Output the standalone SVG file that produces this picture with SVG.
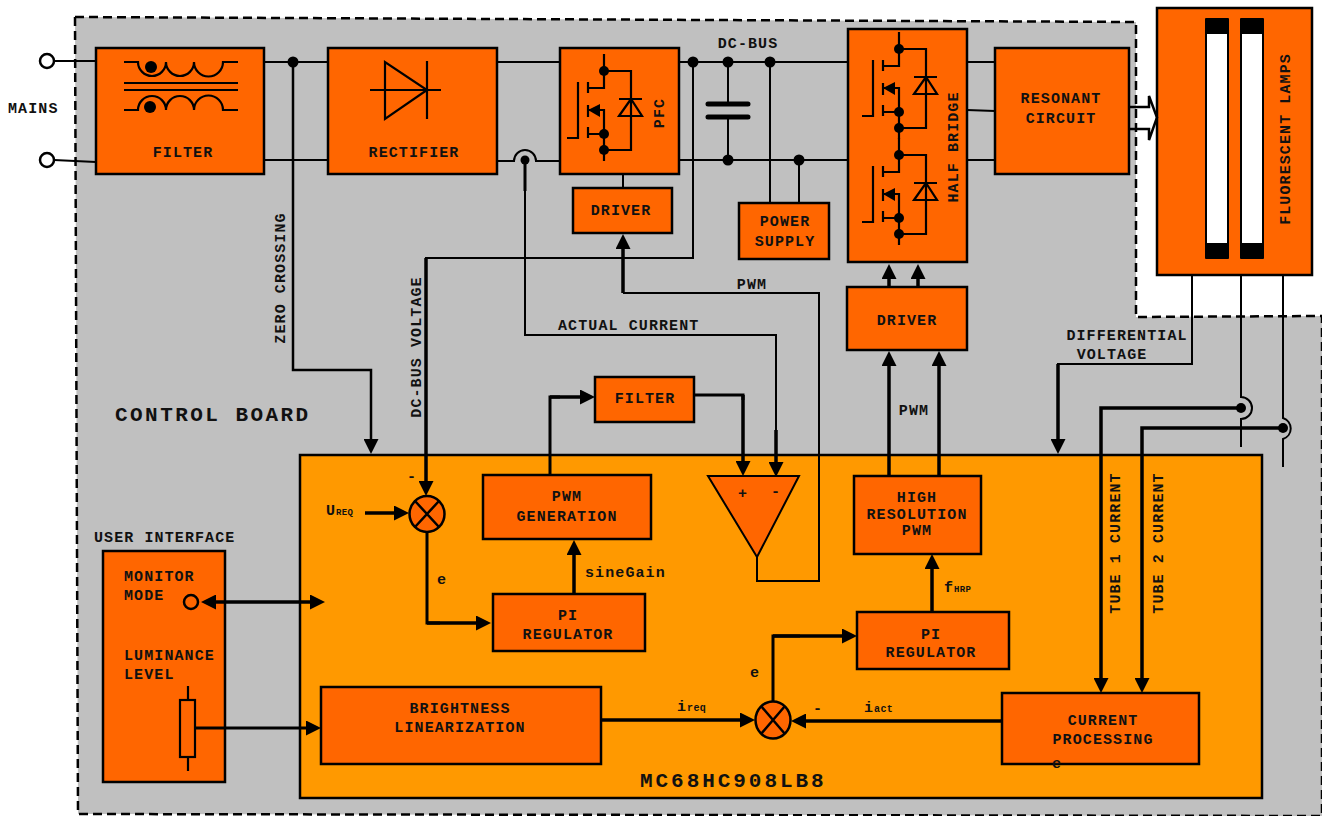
<svg xmlns="http://www.w3.org/2000/svg" xmlns:xlink="http://www.w3.org/1999/xlink" width="1322" height="816" viewBox="0 0 1322 816">
<style>
text{font-family:"Liberation Mono","Courier New",monospace;font-weight:700;font-size:15px;letter-spacing:1.1px;fill:#111}
.m{text-anchor:middle}
.big{font-size:21px;letter-spacing:2.6px}
.cb{letter-spacing:2.45px}
.mc{letter-spacing:2.95px}
.sub{font-size:9px;letter-spacing:.3px}
.b{fill:#ff6600;stroke:#000;stroke-width:2.5}
.w{fill:none;stroke:#000;stroke-width:2}
.t{fill:none;stroke:#000;stroke-width:3}
.ta{fill:none;stroke:#000;stroke-width:3.5;marker-end:url(#a)}
.wa{fill:none;stroke:#000;stroke-width:2;marker-end:url(#a)}
.s{fill:none;stroke:#000;stroke-width:2.2}
.d{fill:#000}
</style>
<defs>
<marker id="a" viewBox="0 0 15 15" refX="10" refY="7.5" markerUnits="userSpaceOnUse" markerWidth="15" markerHeight="15" orient="auto-start-reverse"><path d="M0 0L15 7.5L0 15Z" fill="#000"/></marker>
<g id="fet">
<path class="s" d="M578 82V138H567M588 82V93M588 105V117M588 127V138M604 54V88H588M588 110H604V161M604 134H588M604 71H631V150H604M619 99H642M631 99L619 116H642Z"/>
<path class="d" d="M588 110L600 104V117Z"/>
<circle class="d" cx="604" cy="71" r="5"/><circle class="d" cx="604" cy="134" r="5"/><circle class="d" cx="604" cy="150" r="5"/>
</g>
</defs>
<g id="control-board"><path d="M75 17L1136 22V317L1322 316V816L78 814Z" fill="#c0c0c0" stroke="#000" stroke-width="2.5" stroke-dasharray="9 5"/>
<text class="big cb" x="115" y="421">CONTROL BOARD</text></g>
<g id="mcu"><rect x="300" y="455" width="962" height="343" fill="#ff9900" stroke="#000" stroke-width="2.5"/>
<text class="big mc" x="640" y="787">MC68HC908LB8</text></g>
<g id="mains"><text x="8" y="113">MAINS</text><circle cx="47" cy="61" r="7" fill="#fff" stroke="#000" stroke-width="2.5"/><circle cx="47" cy="160" r="7" fill="#fff" stroke="#000" stroke-width="2.5"/></g>
<g id="filter"><rect class="b" x="96" y="48" width="168" height="126"/>
<path class="s" d="M124 62H138A14 14 0 0 0 166 62A14 14 0 0 0 194 62A14 14 0 0 0 223 62H238M124 83H238M124 90H238M124 110H138A14 14 0 0 1 166 110A14 14 0 0 1 194 110A14 14 0 0 1 223 110H238"/>
<circle class="d" cx="151" cy="67" r="6"/><circle class="d" cx="150" cy="107" r="6"/>
<text class="m" x="183" y="157">FILTER</text></g>
<g id="rectifier"><rect class="b" x="328" y="48" width="169" height="126"/>
<path class="s" d="M385 62V119L427 90ZM427 61V119M370 90H441"/>
<text class="m" x="414" y="157">RECTIFIER</text></g>
<g id="pfc"><rect class="b" x="560" y="48" width="119" height="126"/><use href="#fet" xlink:href="#fet"/>
<text class="m" transform="translate(664 113) rotate(-90)">PFC</text></g>
<g id="half-bridge"><rect class="b" x="848" y="29" width="119" height="233"/>
<use href="#fet" xlink:href="#fet" transform="translate(295 -22)"/><use href="#fet" xlink:href="#fet" transform="translate(295 84)"/>
<text class="m" transform="translate(958 147) rotate(-90)">HALF BRIDGE</text></g>
<g id="resonant"><rect class="b" x="995" y="48" width="134" height="126"/>
<text class="m" x="1061" y="103">RESONANT</text><text class="m" x="1061" y="123">CIRCUIT</text></g>
<g id="lamps"><rect class="b" x="1157" y="8" width="155" height="267"/>
<rect x="1206" y="20" width="22" height="237" fill="#fff" stroke="#000" stroke-width="2"/><rect x="1241" y="20" width="22" height="237" fill="#fff" stroke="#000" stroke-width="2"/>
<rect class="d" x="1205" y="18" width="24" height="16" rx="1"/><rect class="d" x="1205" y="243" width="24" height="16" rx="1"/>
<rect class="d" x="1240" y="18" width="24" height="16" rx="1"/><rect class="d" x="1240" y="243" width="24" height="16" rx="1"/>
<text class="m" transform="translate(1290 139) rotate(-90)">FLUORESCENT LAMPS</text></g>
<g id="driver-pfc"><rect class="b" x="573" y="188" width="99" height="45"/><text class="m" x="621" y="215">DRIVER</text></g>
<g id="power-supply"><rect class="b" x="739" y="203" width="90" height="56"/><text class="m" x="785" y="226">POWER</text><text class="m" x="785" y="246">SUPPLY</text></g>
<g id="driver-hb"><rect class="b" x="847" y="287" width="120" height="63"/><text class="m" x="907" y="325">DRIVER</text></g>
<g id="filter-small"><rect class="b" x="595" y="377" width="99" height="45"/><text class="m" x="645" y="403">FILTER</text></g>
<g id="pwm-generation"><rect class="b" x="483" y="475" width="168" height="64"/><text class="m" x="567" y="501">PWM</text><text class="m" x="567" y="521">GENERATION</text></g>
<g id="pi-regulator-1"><rect class="b" x="493" y="594" width="152" height="57"/><text class="m" x="568" y="620">PI</text><text class="m" x="568" y="639">REGULATOR</text></g>
<g id="high-res-pwm"><rect class="b" x="854" y="476" width="127" height="78"/><text class="m" x="917" y="502">HIGH</text><text class="m" x="917" y="519">RESOLUTION</text><text class="m" x="917" y="535">PWM</text></g>
<g id="pi-regulator-2"><rect class="b" x="857" y="612" width="152" height="57"/><text class="m" x="931" y="639">PI</text><text class="m" x="931" y="657">REGULATOR</text></g>
<g id="brightness"><rect class="b" x="321" y="687" width="280" height="77"/><text class="m" x="460" y="713">BRIGHTNESS</text><text class="m" x="460" y="732">LINEARIZATION</text></g>
<g id="current-processing"><rect class="b" x="1002" y="693" width="197" height="71"/><text class="m" x="1103" y="725">CURRENT</text><text class="m" x="1103" y="744">PROCESSING</text></g>
<g id="user-interface"><text x="94" y="542">USER INTERFACE</text><rect class="b" x="103" y="551" width="122" height="231"/>
<text x="124" y="581">MONITOR</text><text x="124" y="600">MODE</text><text x="124" y="660">LUMINANCE</text><text x="124" y="679">LEVEL</text>
<circle cx="191" cy="602" r="7" fill="none" stroke="#000" stroke-width="2.5"/>
<rect x="180" y="700" width="15" height="57" fill="none" stroke="#000" stroke-width="2.2"/><path class="s" d="M188 686V700M188 757V771"/></g>
<g id="comparator"><path class="b" style="stroke-width:2" d="M708 476H799L757 557Z"/><text class="m" x="743" y="498">+</text><text class="m" x="776" y="496">-</text></g>
<g id="sum-1"><ellipse class="b" cx="427" cy="514" rx="17.500" ry="18"/><path class="t" style="stroke-width:2.500" d="M415 501L439 527M439 501L415 527"/></g>
<g id="sum-2"><ellipse class="b" cx="773" cy="720" rx="17.500" ry="18.500"/><path class="t" style="stroke-width:2.500" d="M761 706L785 734M785 706L761 734"/></g>
<g id="connectors">
<path class="w" d="M54 61H96M54 160L96 162M264 62H328M264 160H328M497 62H560M497 161H514A11 11 0 0 1 536 161H560M679 62H848M679 160H848M623 174V188M967 62H995M967 110L995 111M967 160H995"/>
<path class="w" d="M728 62V104M728 117V160M770 62V203M799 160V203"/>
<path d="M708 104H748M708 117H748" fill="none" stroke="#000" stroke-width="5" stroke-linecap="round"/>
<g class="d"><circle cx="293" cy="62" r="5.500"/><circle cx="693" cy="62" r="5.500"/><circle cx="728" cy="62" r="5.500"/><circle cx="770" cy="62" r="5.500"/><circle cx="728" cy="160" r="5.500"/><circle cx="799" cy="160" r="5.500"/><circle cx="525" cy="160" r="4.500"/><circle cx="1241" cy="408" r="5"/><circle cx="1283" cy="428" r="5"/></g>
<path class="wa" d="M293 62V370H371V449" style="stroke-width:2.500"/>
<path class="t" d="M525 160V191"/>
<path class="w" d="M525 191V335H776V430"/>
<path class="ta" d="M776 430V472"/>
<path class="w" d="M693 62V258H426V262"/>
<path class="ta" d="M426 258V491"/>
<path class="w" d="M757 557V581H819V293H623"/>
<path class="ta" d="M623 293V239"/>
<path class="t" d="M550 475V397H560"/><path class="ta" d="M550 397H590"/>
<path class="t" d="M694 395H743V400"/><path class="ta" d="M743 395V471"/>
<path class="ta" d="M365 513H404"/>
<path class="t" d="M427 532V623H440"/><path class="ta" d="M427 623H486"/>
<path class="ta" d="M574 594V545"/>
<path class="ta" d="M889 476V356"/><path class="ta" d="M939 476V356"/>
<path class="ta" d="M889 287V269"/><path class="ta" d="M918 287V269"/>
<path class="ta" d="M932 612V559"/>
<path class="t" d="M773 702V636H800"/><path class="ta" d="M773 636H852"/>
<path class="ta" d="M601 720H750"/>
<path class="ta" d="M1002 721H796"/>
<path class="ta" d="M206 602H320" style="marker-start:url(#a)"/>
<path class="ta" d="M194 728H316" style="stroke-width:3"/>
<path d="M1129 107H1149V96L1157 117.500L1149 140V129H1129" fill="none" stroke="#000" stroke-width="2.500"/>
<path class="w" d="M1192 275V364H1058V370"/>
<path class="ta" d="M1058 364V449"/>
<path class="w" d="M1241 275V397A11 11 0 0 1 1241 419V447M1283 275V418A11 11 0 0 1 1283 439V467"/>
<path class="ta" d="M1241 408H1101V688"/>
<path class="ta" d="M1283 428H1142V688"/>
</g>
<g id="labels">
<text class="m" x="748" y="48">DC-BUS</text>
<text class="m" x="752" y="289">PWM</text>
<text x="558" y="330">ACTUAL CURRENT</text>
<text class="m" x="914" y="415">PWM</text>
<text class="m" x="1127" y="340">DIFFERENTIAL</text><text class="m" x="1112" y="359">VOLTAGE</text>
<text class="m" transform="translate(285 278) rotate(-90)">ZERO CROSSING</text>
<text class="m" transform="translate(421 347) rotate(-90)">DC-BUS VOLTAGE</text>
<text class="m" transform="translate(1120 543) rotate(-90)">TUBE 1 CURRENT</text>
<text class="m" transform="translate(1163 543) rotate(-90)">TUBE 2 CURRENT</text>
<text x="326" y="515">U<tspan class="sub">REQ</tspan></text>
<text x="407" y="481">-</text>
<text x="437" y="584">e</text>
<text x="585" y="577">sineGain</text>
<text x="944" y="592">f<tspan class="sub">HRP</tspan></text>
<text x="750" y="677">e</text>
<text x="677" y="711">i<tspan class="sub" style="font-size:10px">req</tspan></text>
<text x="813" y="713">-</text>
<text x="864" y="712">i<tspan class="sub" style="font-size:10px">act</tspan></text>
<text x="1052" y="768">e</text>
</g>
</svg>
